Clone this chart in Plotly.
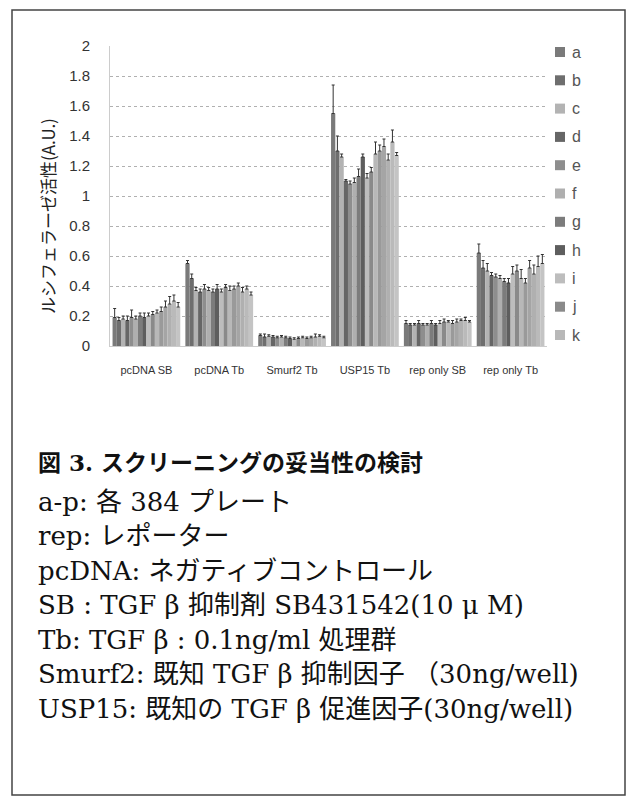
import plotly.graph_objects as go

W, H = 628, 807
categories = ["pcDNA SB", "pcDNA Tb", "Smurf2 Tb", "USP15 Tb", "rep only SB", "rep only Tb"]
series_names = list("abcdefghijklmnop")
legend_names = list("abcdefghijk")

# values per series (rows: a..p), columns: categories
pcDNA_SB   = [0.19, 0.17, 0.18, 0.17, 0.19, 0.18, 0.20, 0.19, 0.20, 0.21, 0.22, 0.23, 0.26, 0.28, 0.30, 0.26]
pcDNA_Tb   = [0.55, 0.45, 0.37, 0.36, 0.38, 0.37, 0.36, 0.38, 0.36, 0.39, 0.37, 0.38, 0.40, 0.36, 0.38, 0.34]
Smurf2_Tb  = [0.07, 0.06, 0.065, 0.06, 0.055, 0.06, 0.055, 0.05, 0.045, 0.05, 0.055, 0.05, 0.055, 0.06, 0.065, 0.055]
USP15_Tb   = [1.55, 1.30, 1.26, 1.10, 1.08, 1.09, 1.13, 1.26, 1.12, 1.16, 1.28, 1.30, 1.33, 1.24, 1.36, 1.27]
repSB      = [0.15, 0.14, 0.14, 0.15, 0.14, 0.14, 0.15, 0.14, 0.15, 0.16, 0.16, 0.15, 0.16, 0.17, 0.17, 0.16]
repTb      = [0.62, 0.52, 0.50, 0.47, 0.46, 0.45, 0.43, 0.42, 0.48, 0.50, 0.45, 0.42, 0.52, 0.48, 0.53, 0.55]

err_pcDNA_SB  = [0.06, 0.02, 0.02, 0.03, 0.05, 0.02, 0.02, 0.03, 0.02, 0.02, 0.02, 0.03, 0.04, 0.05, 0.04, 0.03]
err_pcDNA_Tb  = [0.02, 0.03, 0.02, 0.02, 0.03, 0.02, 0.02, 0.03, 0.02, 0.02, 0.03, 0.02, 0.02, 0.03, 0.02, 0.02]
err_Smurf2_Tb = [0.01, 0.02, 0.01, 0.01, 0.01, 0.01, 0.01, 0.01, 0.01, 0.01, 0.01, 0.01, 0.01, 0.02, 0.01, 0.01]
err_USP15_Tb  = [0.19, 0.10, 0.02, 0.01, 0.02, 0.03, 0.05, 0.02, 0.03, 0.03, 0.08, 0.04, 0.05, 0.04, 0.08, 0.02]
err_repSB     = [0.02, 0.01, 0.01, 0.02, 0.01, 0.01, 0.02, 0.01, 0.02, 0.02, 0.01, 0.02, 0.02, 0.01, 0.02, 0.01]
err_repTb     = [0.06, 0.05, 0.05, 0.02, 0.02, 0.02, 0.02, 0.03, 0.05, 0.04, 0.06, 0.03, 0.05, 0.06, 0.07, 0.06]

colors = ["#7a7a7a", "#6e6e6e", "#b3b3b3", "#666666", "#8e8e8e", "#afafaf", "#7c7c7c", "#5e5e5e",
          "#bdbdbd", "#8a8a8a", "#b8b8b8", "#9a9a9a", "#a5a5a5", "#b0b0b0", "#bababa", "#c4c4c4"]

y_ticks = [0, 0.2, 0.4, 0.6, 0.8, 1, 1.2, 1.4, 1.6, 1.8, 2]
y_tick_text = ["0", "0.2", "0.4", "0.6", "0.8", "1", "1.2", "1.4", "1.6", "1.8", "2"]

caption_title = "図 3. スクリーニングの妥当性の検討"
caption_lines = [
    "a-p: 各 384 プレート",
    "rep: レポーター",
    "pcDNA: ネガティブコントロール",
    "SB : TGF β 抑制剤 SB431542(10 μ M)",
    "Tb: TGF β : 0.1ng/ml 処理群",
    "Smurf2: 既知 TGF β 抑制因子 （30ng/well)",
    "USP15: 既知の TGF β 促進因子(30ng/well)",
]
y_title = "ルシフェラーゼ活性(A.U.)"

# layout geometry (pixels)
L, R, T, B = 110, 547, 46, 346
pw, ph = R - L, B - T

def px(x):
    return (x - L) / pw

def py(y):
    return (B - y) / ph

groups = [pcDNA_SB, pcDNA_Tb, Smurf2_Tb, USP15_Tb, repSB, repTb]
errs = [err_pcDNA_SB, err_pcDNA_Tb, err_Smurf2_Tb, err_USP15_Tb, err_repSB, err_repTb]

fig = go.Figure()
for i, name in enumerate(series_names):
    fig.add_trace(go.Bar(
        name=name,
        x=categories,
        y=[g[i] for g in groups],
        marker=dict(color=colors[i], line=dict(width=0)),
        error_y=dict(type="data", symmetric=False,
                     array=[e[i] for e in errs], arrayminus=[0] * len(categories),
                     color="#333333", thickness=1, width=1.5),
        showlegend=False,
    ))

ser = "DejaVu Serif, Noto Sans CJK JP, serif"
annotations = [
    dict(text=y_title, x=px(47), y=py(216), xref="paper", yref="paper", showarrow=False,
         xanchor="center", yanchor="middle",
         textangle=-90, font=dict(family="Noto Sans CJK JP", size=17, color="#222")),
    dict(text=caption_title, x=px(36), y=py(462), xref="paper", yref="paper", showarrow=False,
         xanchor="left", yanchor="middle",
         font=dict(family=ser, size=23, color="#111", weight="bold")),
]
line_y = [502, 536, 571, 605, 640, 674, 709]
for t, yy in zip(caption_lines, line_y):
    annotations.append(dict(text=t, x=px(36), y=py(yy), xref="paper", yref="paper", showarrow=False,
                            xanchor="left", yanchor="middle",
                            font=dict(family=ser, size=26, color="#111")))

shapes = [dict(type="rect", xref="paper", yref="paper", x0=px(12), x1=px(625), y0=py(10), y1=py(795),
               line=dict(color="#444", width=1.5))]

# manual legend (a..k visible, rest cut off as in the original)
for i, name in enumerate(legend_names):
    cy = 52 + 28.3 * i
    shapes.append(dict(type="rect", xref="paper", yref="paper",
                       x0=px(555), x1=px(565), y0=py(cy + 5), y1=py(cy - 5),
                       fillcolor=colors[i], line=dict(width=0)))
    annotations.append(dict(text=name, x=px(570), y=py(cy), xref="paper", yref="paper",
                            showarrow=False, xanchor="left", yanchor="middle",
                            font=dict(family="Liberation Sans, Arial", size=16, color="#555")))

fig.update_layout(
    width=W, height=H,
    margin=dict(l=L, r=W - R, t=T, b=H - B),
    paper_bgcolor="white", plot_bgcolor="white",
    barmode="group", bargap=0.07, bargroupgap=0,
    showlegend=False,
    font=dict(family="Liberation Sans, Arial", color="#333"),
    xaxis=dict(tickfont=dict(size=11, color="#333"), showline=True, linecolor="#cccccc",
               ticks="", showgrid=False, ticklabelstandoff=14),
    yaxis=dict(range=[0, 2], tickvals=y_ticks, ticktext=y_tick_text,
               tickfont=dict(size=15, color="#333"), showgrid=True, gridcolor="#b0b0b0",
               griddash="dot", gridwidth=1, zeroline=False, showline=True, linecolor="#cccccc",
               ticks="", ticklabelstandoff=16),
    annotations=annotations,
    shapes=shapes,
)

fig.write_html("out.html")
